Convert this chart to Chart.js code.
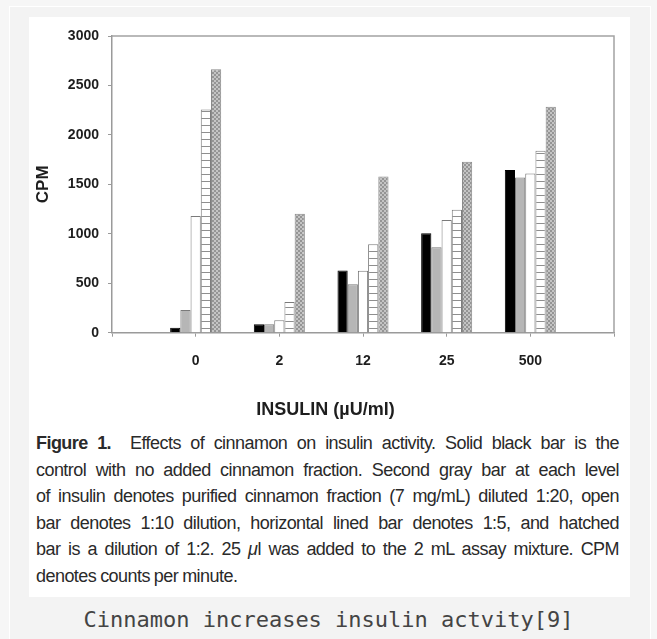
<!DOCTYPE html>
<html>
<head>
<meta charset="utf-8">
<script src="https://cdn.jsdelivr.net/npm/chart.js@4"></script>
<style>
  html, body { margin:0; padding:0; width:657px; height:639px; overflow:hidden; background:#f6f6f6; }
  #frame { position:absolute; left:9px; top:6px; width:642px; height:650px; box-sizing:border-box; border:1px solid #ffffff; background:#f3f3f3; }
  #panel { position:absolute; left:29px; top:17px; width:601px; height:580px; background:#ffffff; }
  #chartbox { position:absolute; left:0; top:0; width:601px; height:408px; }
  #desc { position:absolute; left:7px; top:413px; width:583px; font-family:"Liberation Sans", Arial, sans-serif; font-size:18px; letter-spacing:-0.55px; word-spacing:-0.5px; line-height:26.5px; color:#2a2a2a; }
  #desc div { text-align:justify; text-align-last:justify; white-space:nowrap; }
  #desc div.last { text-align:left; text-align-last:left; }
  #cap { position:absolute; left:0; top:608px; width:657px; text-align:center; font-family:"DejaVu Sans Mono", monospace; font-size:22px; line-height:24px; color:#444; }
</style>
</head>
<body>
<div id="frame"></div>
<div id="panel">
  <div id="chartbox"><canvas id="c"></canvas></div>
  <div id="desc">
    <div><b>Figure 1.</b>&nbsp; Effects of cinnamon on insulin activity. Solid black bar is the</div>
    <div>control with no added cinnamon fraction. Second gray bar at each level</div>
    <div>of insulin denotes purified cinnamon fraction (7 mg/mL) diluted 1:20, open</div>
    <div>bar denotes 1:10 dilution, horizontal lined bar denotes 1:5, and hatched</div>
    <div>bar is a dilution of 1:2. 25 <i>μ</i>l was added to the 2 mL assay mixture. CPM</div>
    <div class="last">denotes counts per minute.</div>
  </div>
</div>
<div id="cap">Cinnamon increases insulin actvity[9]</div>
<script>
// ---- data ----
const categories = ['', '0', '2', '12', '25', '500', ''];
const controlValues  = [null,   50,   85,  630, 1005, 1645, null];
const dil20Values    = [null,  230,   85,  490,  865, 1570, null];
const dil10Values    = [null, 1180,  125,  627, 1140, 1610, null];
const dil5Values     = [null, 2258,  310,  895, 1242, 1840, null];
const dil2Values     = [null, 2663, 1203, 1580, 1729, 2285, null];
const yTickValues    = [0, 500, 1000, 1500, 2000, 2500, 3000];

const canvas = document.getElementById('c');
const mainCtx = canvas.getContext('2d');

function makePattern(w, h, draw) {
  const pc = document.createElement('canvas');
  pc.width = w; pc.height = h;
  const g = pc.getContext('2d');
  draw(g, w, h);
  return mainCtx.createPattern(pc, 'repeat');
}
const linedPattern = makePattern(4, 7, (g, w, h) => {
  g.fillStyle = '#ffffff'; g.fillRect(0, 0, w, h);
  g.fillStyle = '#8e8e8e'; g.fillRect(0, 3, w, 1);
});
const hatchPattern = makePattern(4, 4, (g, w, h) => {
  g.fillStyle = '#c4c4c4'; g.fillRect(0, 0, w, h);
  g.fillStyle = '#959595';
  for (let i = 0; i < 4; i++) { g.fillRect(i, i, 1, 1); g.fillRect(3 - i, i, 1, 1); }
});

const plotFrame = {
  id: 'plotFrame',
  beforeDatasetsDraw(chart) {
    const { ctx, chartArea: a } = chart;
    ctx.save();
    ctx.strokeStyle = '#a3a3a3';
    ctx.lineWidth = 1.5;
    ctx.beginPath();
    ctx.moveTo(a.left, a.top);
    ctx.lineTo(a.right, a.top);
    ctx.lineTo(a.right, a.bottom);
    ctx.stroke();
    ctx.restore();
  }
};

const fontFam = '"Liberation Sans", Arial, sans-serif';

new Chart(mainCtx, {
  type: 'bar',
  data: {
    labels: categories,
    datasets: [
      { label: 'Control', data: controlValues, backgroundColor: '#000000', borderColor: '#000000', borderWidth: 1 },
      { label: '1:20', data: dil20Values, backgroundColor: '#b6b6b6', borderColor: '#7a7a7a', borderWidth: 1 },
      { label: '1:10', data: dil10Values, backgroundColor: '#ffffff', borderColor: '#7a7a7a', borderWidth: 1 },
      { label: '1:5', data: dil5Values, backgroundColor: linedPattern, borderColor: '#7a7a7a', borderWidth: 1 },
      { label: '1:2', data: dil2Values, backgroundColor: hatchPattern, borderColor: '#8a8a8a', borderWidth: 1 }
    ]
  },
  options: {
    responsive: true,
    maintainAspectRatio: false,
    animation: false,
    layout: { padding: { left: 0, right: 8, top: 19, bottom: 0 } },
    datasets: { bar: { categoryPercentage: 0.61, barPercentage: 1.0 } },
    plugins: {
      legend: { display: false },
      tooltip: { enabled: false },
      title: {
        display: true,
        position: 'bottom',
        text: 'INSULIN (µU/ml)',
        color: '#1e1e1e',
        font: { family: fontFam, size: 18, weight: 'bold' },
        padding: { top: 10, bottom: 4 }
      }
    },
    scales: {
      x: {
        type: 'category',
        offset: false,
        grid: { display: true, offset: false, drawOnChartArea: false, drawTicks: true, tickLength: 4, color: '#9a9a9a', lineWidth: 1 },
        border: { display: true, color: '#9a9a9a', width: 1.5 },
        ticks: { color: '#1e1e1e', font: { family: fontFam, size: 14, weight: 'bold' }, padding: 16, maxRotation: 0, autoSkip: false },
        afterFit(s) { s.height = 56.7; }
      },
      y: {
        min: 0,
        max: 3000,
        afterBuildTicks(s) { s.ticks = yTickValues.map(v => ({ value: v })); },
        grid: { display: true, drawOnChartArea: false, drawTicks: true, tickLength: 4, color: '#9a9a9a', lineWidth: 1 },
        border: { display: true, color: '#9a9a9a', width: 1.5 },
        ticks: { color: '#1e1e1e', font: { family: fontFam, size: 14, weight: 'bold' }, padding: 9, callback: (v) => String(v) },
        title: { display: true, text: 'CPM', color: '#1e1e1e', font: { family: fontFam, size: 17, weight: 'bold' }, padding: { top: 4, bottom: 0 } },
        afterFit(s) { s.width = 83; }
      }
    }
  },
  plugins: [plotFrame]
});
</script>
</body>
</html>
